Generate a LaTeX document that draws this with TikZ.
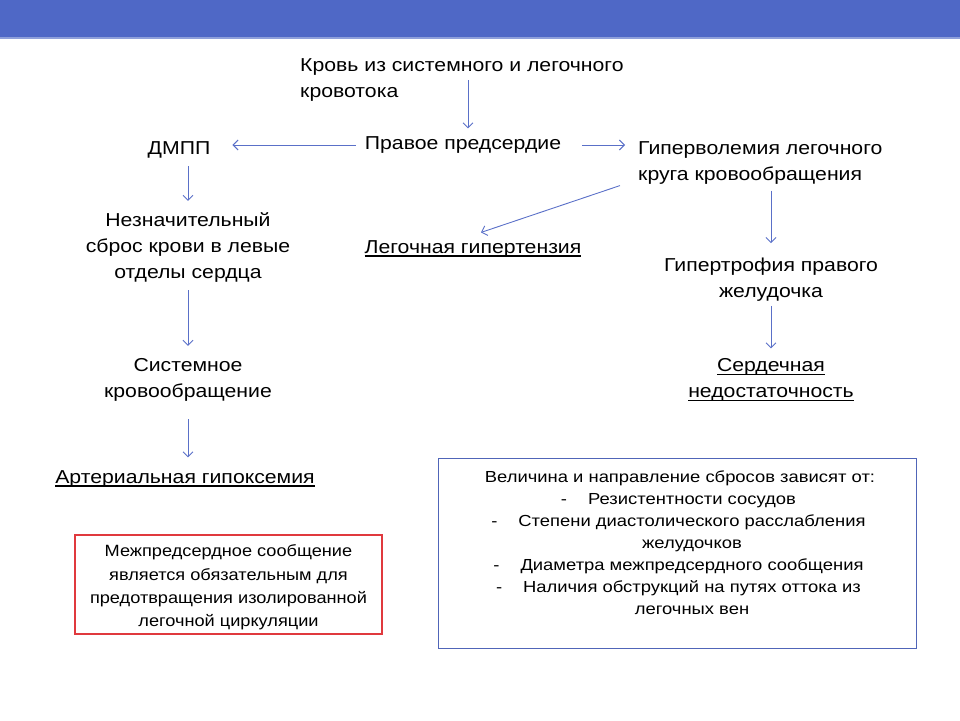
\documentclass[tikz,border=0pt]{standalone}
\usepackage{fontspec}
\setmainfont{Liberation Sans}
\newfontfamily\mainf[FakeStretch=1.135]{Liberation Sans}
\newfontfamily\redf[FakeStretch=1.115]{Liberation Sans}
\newfontfamily\bluef[FakeStretch=1.15]{Liberation Sans}
\newcommand\myul[1]{\setbox0\hbox{#1}\rlap{\rule[-3.2pt]{\wd0}{1.2pt}}\box0}
\usetikzlibrary{arrows.meta,calc}
\definecolor{barc}{HTML}{4F68C6}
\definecolor{barlight}{HTML}{8FA0DA}
\definecolor{arrc}{HTML}{5A70C8}
\definecolor{redc}{HTML}{E0393E}
\definecolor{boxc}{HTML}{5065B8}
\begin{document}
\begin{tikzpicture}[x=1pt,y=-1pt,
  txt/.style={inner sep=0pt, align=center, font=\mainf\fontsize{18.7}{26}\selectfont},
  arr/.style={draw=arrc, line width=0.9pt, -{Straight Barb[length=5pt,width=10pt]}},
  boxtxt/.style={inner sep=0pt, align=center}]
\useasboundingbox (0,0) rectangle (960,720);
\fill[barc] (0,0) rectangle (960,37);
\draw[barlight, line width=1.5pt] (0,38) -- (960,38);

\node[txt, align=left, anchor=west] (src) at (300,80) {Кровь из системного и легочного\\кровотока};
\node[txt] (pp) at (463,145) {Правое предсердие};
\node[txt] (dmpp) at (179,150) {ДМПП};
\node[txt, align=left, anchor=west] (hyp) at (638,163) {Гиперволемия легочного\\круга кровообращения};
\node[txt] (lg) at (473,249) {\myul{Легочная гипертензия}};
\node[txt] (gpr) at (771,280) {Гипертрофия правого\\желудочка};
\node[txt] (sn) at (771,380) {\myul{Сердечная}\\\myul{недостаточность}};
\node[txt] (nez) at (188,247) {Незначительный\\сброс крови в левые\\отделы сердца};
\node[txt] (sys) at (188,379.5) {Системное\\кровообращение};
\node[txt] (art) at (185,479) {\myul{Артериальная гипоксемия}};

\node[draw=redc, line width=1.2pt, minimum width=307pt, minimum height=99pt, inner sep=0pt] (rbox) at (228.5,584.5) {};
\node[boxtxt, font=\redf\fontsize{16.3}{23.2}\selectfont] (rtxt) at ([yshift=-3pt]rbox.center) {Межпредсердное сообщение\\является обязательным для\\предотвращения изолированной\\легочной циркуляции};

\node[draw=boxc, line width=1pt, minimum width=478pt, minimum height=190pt, inner sep=0pt] (bbox) at (677,553) {};
\node[boxtxt, font=\bluef\fontsize{16}{22}\selectfont] (btxt) at (692,543) {\hspace*{-24pt}Величина и направление сбросов зависят от:\\
\llap{-\hspace{21pt}}Резистентности сосудов\\
\llap{-\hspace{21pt}}Степени диастолического расслабления\\
желудочков\\
\llap{-\hspace{21pt}}Диаметра межпредсердного сообщения\\
\llap{-\hspace{21pt}}Наличия обструкций на путях оттока из\\
легочных вен};

\draw[arr, shorten >=8pt] ([xshift=5pt]pp.north |- src.center) -- ([xshift=5pt]pp.north);
\draw[arr, shorten <=9pt, shorten >=22pt] (pp.west) -- (pp.west -| dmpp.east);
\draw[arr, shorten <=21pt, shorten >=13pt] (pp.east) -- (pp.east -| hyp.west);
\draw[arr] ($(hyp.south west)+(-18,1)$) -- ($(lg.north)+(8,-8)$);
\draw[arr, shorten <=6pt, shorten >=15pt] (hyp.south -| gpr.north) -- (gpr.north);
\draw[arr, shorten <=4pt, shorten >=10pt] (gpr.south) -- (sn.north);
\draw[arr, shorten <=8pt, shorten >=11pt] (dmpp.south -| nez.north) -- (nez.north);
\draw[arr, shorten <=8pt, shorten >=12pt] (nez.south) -- (sys.north);
\draw[arr, shorten <=18pt, shorten >=13pt] (sys.south) -- (sys.south |- art.north);
\end{tikzpicture}
\end{document}
